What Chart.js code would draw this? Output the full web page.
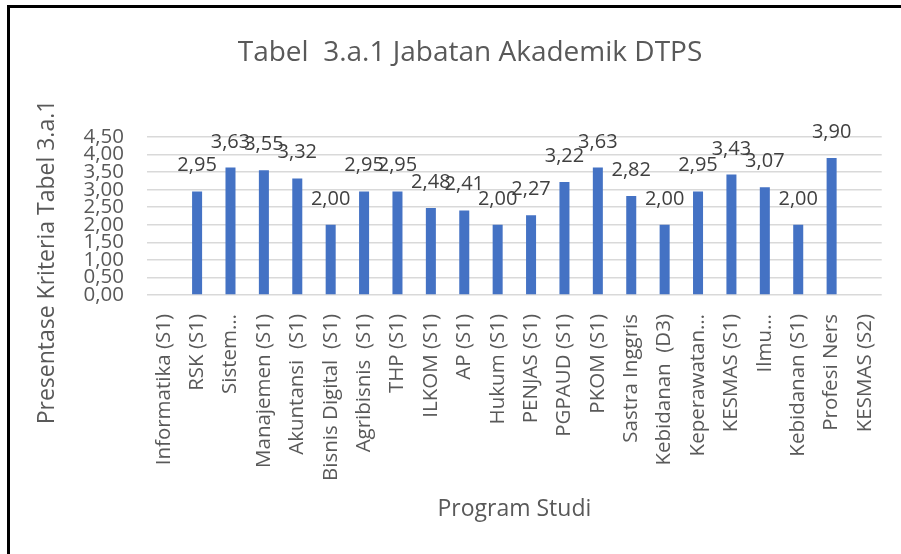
<!DOCTYPE html>
<html>
<head>
<meta charset="utf-8">
<script src="https://cdn.jsdelivr.net/npm/chart.js@4"></script>
<style>
  body { margin: 0; background: #fff; overflow: hidden; }
  #wrap { position: relative; width: 901px; height: 554px; }
  #frame { position: absolute; left: 7px; top: 5px; width: 900px; height: 560px;
           border-left: 3px solid #000; border-top: 3px solid #000; pointer-events: none; }
</style>
</head>
<body>
<div id="wrap">
  <canvas id="chart" width="901" height="554"></canvas>
  <div id="frame"></div>
</div>
<script>
// chart data
var programs = ['Informatika (S1)', 'RSK (S1)', 'Sistem\u2026', 'Manajemen (S1)', 'Akuntansi  (S1)',
    'Bisnis Digital  (S1)', 'Agribisnis  (S1)', 'THP (S1)', 'ILKOM (S1)', 'AP (S1)', 'Hukum (S1)',
    'PENJAS (S1)', 'PGPAUD (S1)', 'PKOM (S1)', 'Sastra Inggris', 'Kebidanan  (D3)', 'Keperawatan\u2026',
    'KESMAS (S1)', 'Ilmu\u2026', 'Kebidanan (S1)', 'Profesi Ners', 'KESMAS (S2)'];
var scores = [null, 2.95, 3.63, 3.55, 3.32, 2.00, 2.95, 2.95, 2.48, 2.41, 2.00,
    2.27, 3.22, 3.63, 2.82, 2.00, 2.95, 3.43, 3.07, 2.00, 3.90, null];
var yTicks = [0, 0.5, 1, 1.5, 2, 2.5, 3, 3.5, 4, 4.5];

var chartTitle = 'Tabel  3.a.1 Jabatan Akademik DTPS';
var yTitle = 'Presentase Kriteria Tabel 3.a.1';
var xTitle = 'Program Studi';

var FONT = "'Open Sans', 'Noto Sans', sans-serif";

function fmt(v) {
    return v.toFixed(2).replace('.', ',');
}

// value labels above bars
var valueLabels = {
    id: 'valueLabels',
    afterDatasetsDraw: function(chart) {
        var ctx = chart.ctx;
        var meta = chart.getDatasetMeta(0);
        ctx.save();
        ctx.font = '20px ' + FONT;
        ctx.fillStyle = '#404040';
        ctx.textAlign = 'center';
        ctx.textBaseline = 'alphabetic';
        for (var i = 0; i < meta.data.length; i++) {
            var v = scores[i];
            if (v === null) continue;
            var bar = meta.data[i];
            ctx.fillText(fmt(v), bar.x, bar.y - 20);
        }
        ctx.restore();
    }
};

// chart title and y axis title, placed like the Excel original
var titles = {
    id: 'titles',
    afterDraw: function(chart) {
        var ctx = chart.ctx;
        ctx.save();
        ctx.fillStyle = '#595959';
        ctx.textAlign = 'center';
        ctx.textBaseline = 'middle';
        ctx.font = '28px ' + FONT;
        ctx.fillText(chartTitle, 470, 53);

        ctx.translate(47, 262);
        ctx.rotate(-Math.PI / 2);
        ctx.font = '23px ' + FONT;
        ctx.fillText(yTitle, 0, 0);
        ctx.restore();
    }
};

new Chart(document.getElementById('chart'), {
    type: 'bar',
    data: {
        labels: programs,
        datasets: [{
            data: scores,
            backgroundColor: '#4472C4',
            barPercentage: 0.3,
            categoryPercentage: 1.0
        }]
    },
    options: {
        responsive: false,
        animation: false,
        layout: { padding: { left: 0, right: 17, top: 137, bottom: 0 } },
        plugins: {
            legend: { display: false },
            tooltip: { enabled: false },
            title: { display: false }
        },
        scales: {
            x: {
                grid: { display: false },
                border: { display: false },
                ticks: {
                    color: '#595959',
                    font: { family: FONT, size: 20.5 },
                    minRotation: 90,
                    maxRotation: 90,
                    autoSkip: false,
                    padding: 11
                },
                title: {
                    display: true,
                    text: xTitle,
                    color: '#595959',
                    font: { family: FONT, size: 23 },
                    padding: { top: 0, bottom: 31 }
                },
                afterFit: function(scale) { scale.height = 259; }
            },
            y: {
                min: 0,
                max: 4.5,
                afterBuildTicks: function(scale) {
                    scale.ticks = yTicks.map(function(v) { return { value: v }; });
                },
                grid: { color: '#d9d9d9', lineWidth: 1.5, drawTicks: false },
                border: { display: false },
                ticks: {
                    color: '#595959',
                    font: { family: FONT, size: 20.5 },
                    padding: 23,
                    autoSkip: false,
                    callback: function(v) { return fmt(v); }
                },
                afterFit: function(scale) { scale.width = 147; }
            }
        }
    },
    plugins: [valueLabels, titles]
});
</script>
</body>
</html>
